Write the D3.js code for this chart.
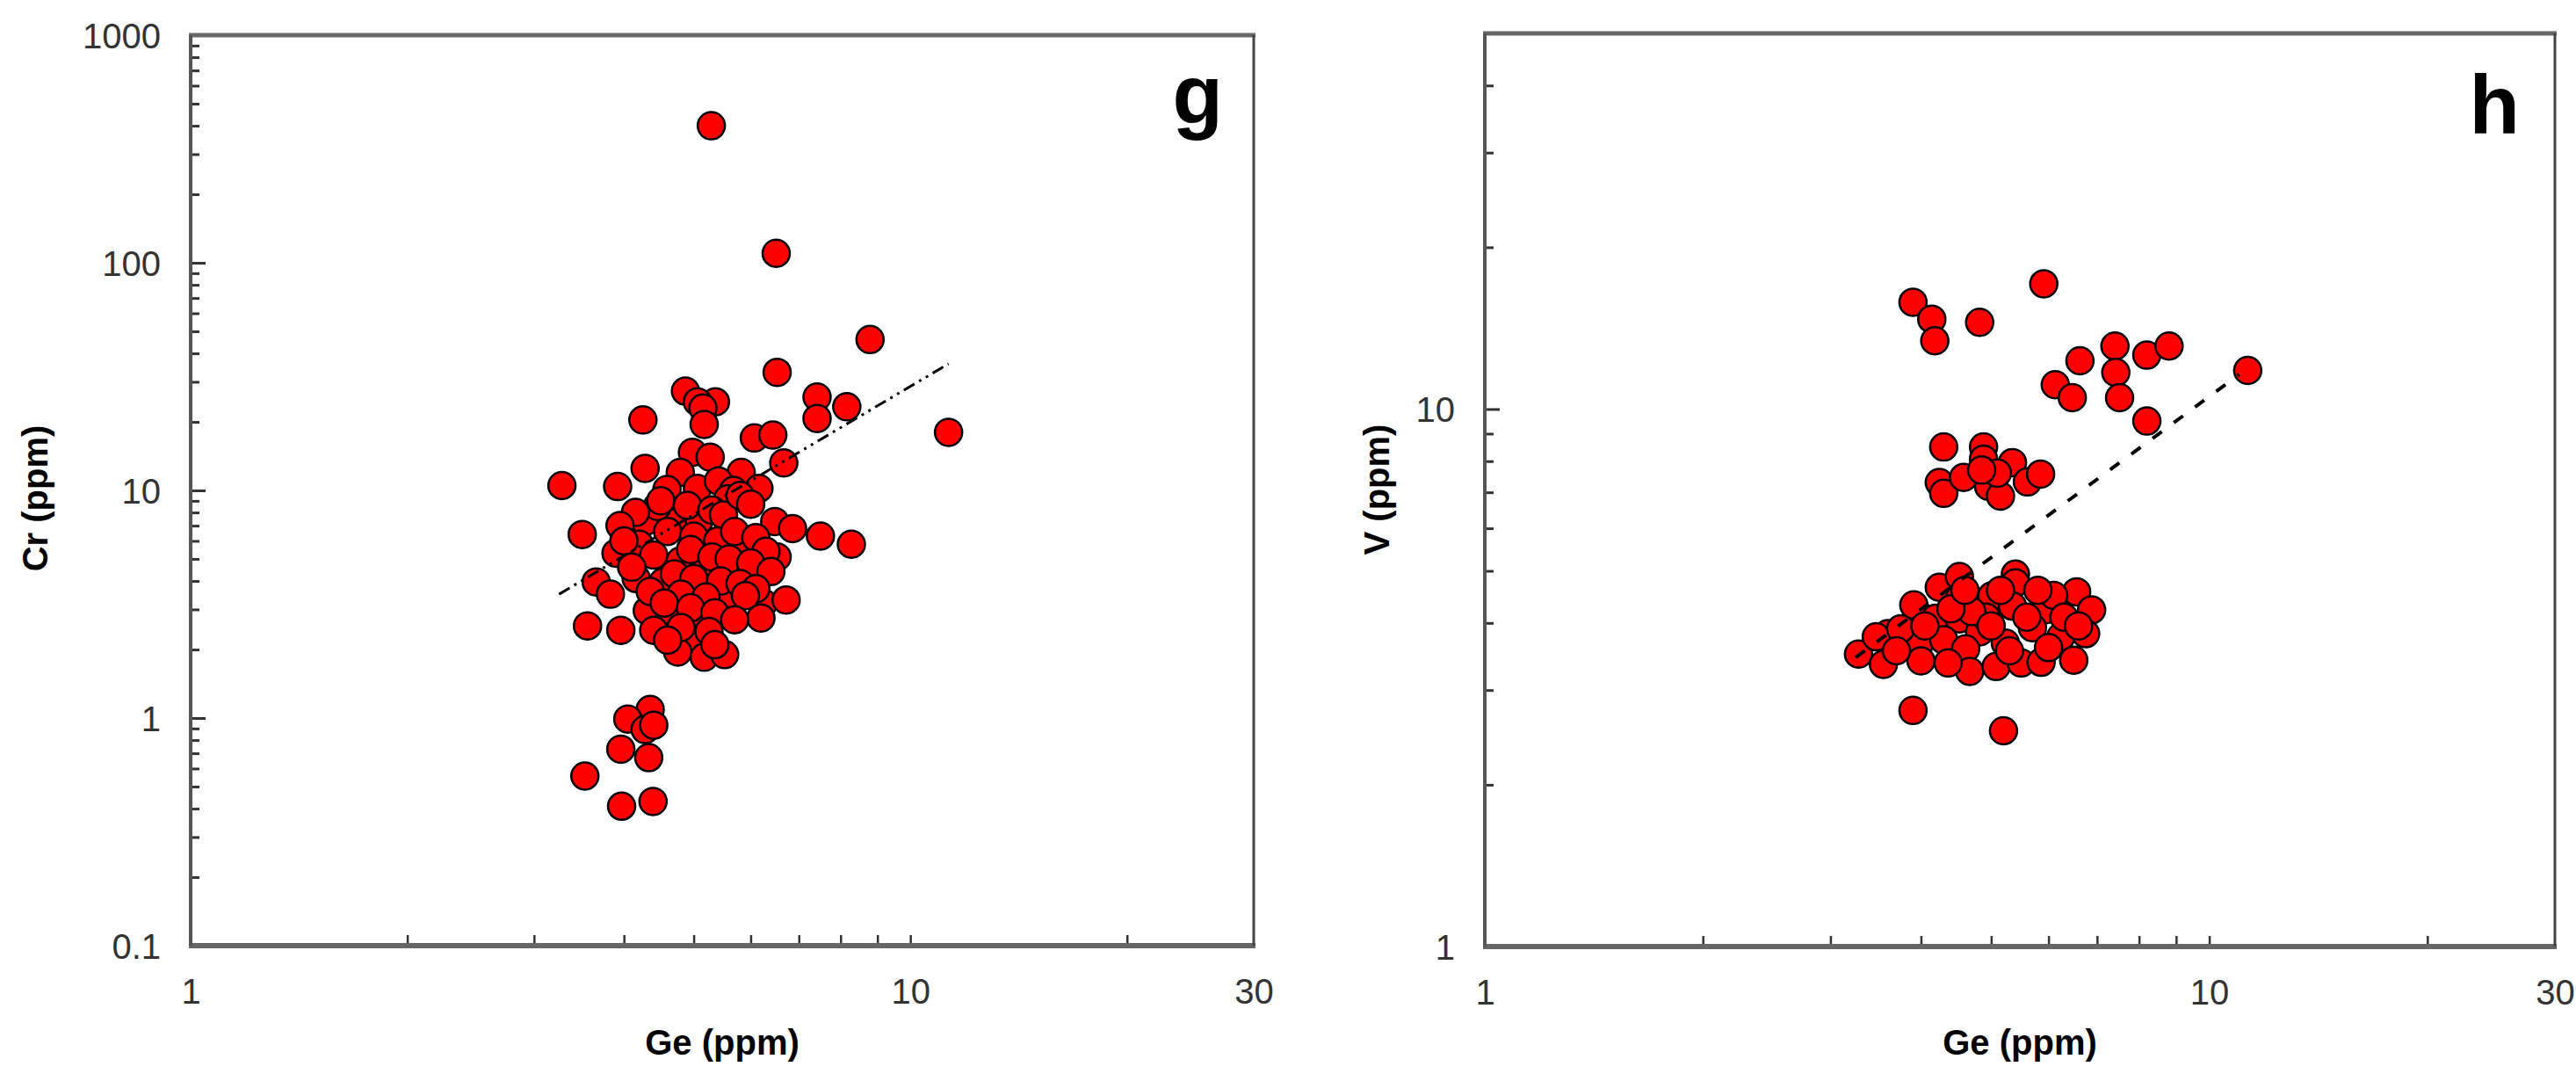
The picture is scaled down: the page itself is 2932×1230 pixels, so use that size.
<!DOCTYPE html>
<html>
<head>
<meta charset="utf-8">
<script src="https://cdn.jsdelivr.net/npm/d3@7/dist/d3.min.js"></script>
<style>
  html, body { margin: 0; padding: 0; background: #fff; }
  svg { display: block; }
</style>
</head>
<body>
<svg id="chart" width="2932" height="1230"></svg>
<script>
// ---------------- DATA ----------------
// Panel g: Ge (ppm) vs Cr (ppm)
const geG = [5.29,6.51,8.79,6.53,4.87,5.36,5.06,5.15,7.42,8.16,4.25,11.3,5.17,7.42,6.07,6.44,6.67,4.98,5.27,4.28,4.79,5.82,3.28,3.92,4.59,5.06,5.41,5.68,6.16,5.58,4.28,4.71,5.09,4.45,6.48,6.86,7.5,8.28,3.5,3.9,5.9,6.53,4.79,5.21,5.95,3.66,4.53,4.16,3.83,5.5,6.25,6.72,4.31,4.62,5.06,6.2,3.56,3.96,4.4,5.03,4.75,5.17,5.52,4.35,4.05,4.28,4.4,3.96,4.33,3.53,3.97,4.39,
  4.5,4.9,5.3,5.5,4.6,5.0,5.4,5.7,6.1,6.3,4.2,4.4,4.95,5.3,5.6,6.0,6.4,4.1,4.7,5.0,5.45,5.8,6.1,4.35,4.8,5.2,5.9,4.55,4.95,5.35,5.7,4.8,5.25,4.6,5.35,5.8,6.0,4.15,3.95,4.0];
const crG = [400,110,46,33,27.3,24.5,24.5,23,25.7,23.3,20.4,18,19.5,20.7,17,17.5,13.2,14.7,14,12.5,12,12,10.5,10.4,10.1,10.2,11,10,10.2,9.2,7.3,7.2,7.4,8.5,7.3,6.8,6.3,5.8,6.4,5.3,5.8,5.1,4.9,4.5,4.5,3.96,3.95,4.1,3.5,3.24,3.2,3.3,2.96,2.75,2.9,2.75,2.54,2.43,2.43,2.22,1.95,1.85,1.9,1.09,0.99,0.89,0.93,0.73,0.67,0.556,0.41,0.43,
  9,8.6,8.2,7.8,6.6,6.3,6.0,6.6,6.2,5.4,5.8,5.2,5.5,5.1,5.0,4.8,4.4,4.6,4.3,4.1,4.0,3.9,3.7,3.6,3.5,3.4,3.45,3.2,3.05,2.9,2.7,2.5,2.4,2.2,2.1,9.5,8.7,8.0,7.0,6.0];

// Panel h: Ge (ppm) vs V (ppm)
const geH = [3.9,4.14,4.18,4.82,5.91,6.63,6.13,6.47,7.41,7.43,7.52,8.2,8.8,8.2,11.3,
  4.3,4.88,4.24,4.3,4.58,4.88,4.96,5.15,5.35,5.61,5.85,5.1,4.85,
  3.28,3.55,3.6,3.91,4.24,4.52,3.97,4.19,4.52,4.52,4.3,4.82,4.61,4.67,5.01,5.4,5.4,5.35,5.23,5.08,5.5,5.93,5.86,6.24,6.56,6.88,6.75,6.5,5.7,6.1,4.92,4.36,3.47,3.9,5.2,
  3.75,4.05,4.7,5.0,5.6,5.8,6.3,4.4,4.0,5.3,6.0,3.7,4.6,5.15,6.6];
const vH = [15.8,14.7,13.4,14.5,17.1,12.3,11.1,10.5,13.1,11.7,10.5,12.6,13.1,9.5,11.8,
  8.5,8.5,7.3,6.97,7.46,8.07,7.18,6.89,7.95,7.32,7.57,7.6,7.7,
  3.5,3.35,3.82,4.32,4.66,4.88,3.63,4.08,4.07,4.44,3.72,3.85,3.58,3.25,4.49,4.93,4.75,4.3,3.67,3.32,3.37,4.23,3.38,3.77,4.57,4.23,3.82,3.41,3.92,4.5,4.1,3.37,3.77,2.75,2.52,
  3.9,3.95,4.2,3.95,4.1,4.6,4.1,4.25,3.4,3.55,3.6,3.55,4.6,4.6,3.95];

// Trend lines (endpoints)
const trendG = [[3.25, 3.5], [11.3, 36]];
const trendH = [[3.25, 3.45], [11.0, 11.6]];

// Tick labels
const xLabels = [1, 10, 30];
const xMinor = [2,3,4,5,6,7,8,9,10,20];
const yLabelsG = [0.1, 1, 10, 100, 1000];
const yLabelsH = [1, 10];

// ---------------- DRAW ----------------
const svg = d3.select("#chart");
const FONT = "'Liberation Sans', Arial, sans-serif";

function minorTicks(lo, hi) {
  const out = [];
  for (let d = lo; d < hi; d *= 10) {
    for (let k = 1; k <= 9; k++) {
      const v = d * k;
      if (v > lo && v < hi) out.push(+v.toPrecision(6));
    }
  }
  return out;
}

function panel(cfg) {
  const x = d3.scaleLog().domain([1, 30]).range([cfg.x0, cfg.x1]);
  const y = d3.scaleLog().domain(cfg.yDomain).range([cfg.y1, cfg.y0]);
  const g = svg.append("g");

  // minor y ticks (inward)
  const ym = minorTicks(cfg.yDomain[0], cfg.yDomain[1]).filter(v => !cfg.yLabels.includes(v));
  g.append("g").attr("transform", `translate(${cfg.x0},0)`)
    .call(d3.axisLeft(y).tickValues(ym).tickSize(-10).tickFormat(""))
    .call(s => s.select(".domain").remove())
    .call(s => s.selectAll("line").attr("stroke", "#333").attr("stroke-width", 3));
  // major y ticks + labels
  g.append("g").attr("transform", `translate(${cfg.x0},0)`)
    .call(d3.axisLeft(y).tickValues(cfg.yLabels).tickSize(-17).tickPadding(0).tickFormat(d => String(d)))
    .call(s => s.select(".domain").remove())
    .call(s => s.selectAll("line").attr("stroke", "#333").attr("stroke-width", 3))
    .call(s => s.selectAll("text").attr("x", -34).attr("dy", "0.36em")
      .attr("font-family", FONT).attr("font-size", 40).attr("fill", "#333"));

  // x ticks (inward)
  g.append("g").attr("transform", `translate(0,${cfg.y1})`)
    .call(d3.axisBottom(x).tickValues(xMinor).tickSize(-12).tickFormat(""))
    .call(s => s.select(".domain").remove())
    .call(s => s.selectAll("line").attr("stroke", "#333").attr("stroke-width", 2.5));
  // x labels
  g.append("g").attr("transform", `translate(0,${cfg.y1})`)
    .call(d3.axisBottom(x).tickValues(xLabels).tickSize(0).tickPadding(38).tickFormat(d => String(d)))
    .call(s => s.select(".domain").remove())
    .call(s => s.selectAll("text").attr("font-family", FONT).attr("font-size", 40).attr("fill", "#333"));

  // frame
  g.append("line").attr("x1", cfg.x0 - 2).attr("x2", cfg.x1 + 2).attr("y1", cfg.y0).attr("y2", cfg.y0)
    .attr("stroke", "#666").attr("stroke-width", 5);
  g.append("line").attr("x1", cfg.x0 - 2).attr("x2", cfg.x1 + 2).attr("y1", cfg.y1).attr("y2", cfg.y1)
    .attr("stroke", "#666").attr("stroke-width", 6);
  g.append("line").attr("x1", cfg.x0).attr("x2", cfg.x0).attr("y1", cfg.y0).attr("y2", cfg.y1)
    .attr("stroke", "#555").attr("stroke-width", 4);
  g.append("line").attr("x1", cfg.x1).attr("x2", cfg.x1).attr("y1", cfg.y0).attr("y2", cfg.y1)
    .attr("stroke", "#444").attr("stroke-width", 3);

  // points
  const pts = cfg.xs.map((v, i) => [v, cfg.ys[i]]);
  g.append("g").selectAll("circle").data(pts).join("circle")
    .attr("cx", d => x(d[0])).attr("cy", d => y(d[1])).attr("r", 15.5)
    .attr("fill", "#ff0000").attr("stroke", "#000").attr("stroke-width", 2.5);

  // trend line
  g.append("path").datum(cfg.trend)
    .attr("d", d3.line().x(d => x(d[0])).y(d => y(d[1])))
    .attr("fill", "none").attr("stroke", "#000")
    .attr("stroke-width", cfg.trendWidth).attr("stroke-dasharray", cfg.dash);

  // axis titles
  g.append("text").attr("x", (cfg.x0 + cfg.x1) / 2).attr("y", 1200)
    .attr("text-anchor", "middle").attr("font-family", FONT).attr("font-weight", "bold")
    .attr("font-size", 40).attr("fill", "#000").text("Ge (ppm)");
  g.append("text").attr("transform", `translate(${cfg.yTitleX},${cfg.yTitleY}) rotate(-90)`)
    .attr("text-anchor", "middle").attr("dy", "0.35em").attr("font-family", FONT).attr("font-weight", "bold")
    .attr("font-size", 40).attr("fill", "#000").text(cfg.yTitle);

  // panel letter
  g.append("text").attr("x", cfg.letterX).attr("y", cfg.letterY)
    .attr("text-anchor", "end").attr("font-family", FONT).attr("font-weight", "bold")
    .attr("font-size", 94).attr("fill", "#000").text(cfg.letter);
}

panel({
  x0: 217, x1: 1427, y0: 40, y1: 1076,
  yDomain: [0.1, 1000], yLabels: yLabelsG,
  xs: geG, ys: crG, trend: trendG, dash: "14,6,3,6,3,6", trendWidth: 3,
  yTitle: "Cr (ppm)", yTitleX: 40, yTitleY: 567,
  letter: "g", letterX: 1392, letterY: 140
});
panel({
  x0: 1690, x1: 2908, y0: 38, y1: 1077,
  yDomain: [1, 50], yLabels: yLabelsH,
  xs: geH, ys: vH, trend: trendH, dash: "13,17", trendWidth: 4,
  yTitle: "V (ppm)", yTitleX: 1567, yTitleY: 557,
  letter: "h", letterX: 2868, letterY: 152
});
</script>
</body>
</html>
